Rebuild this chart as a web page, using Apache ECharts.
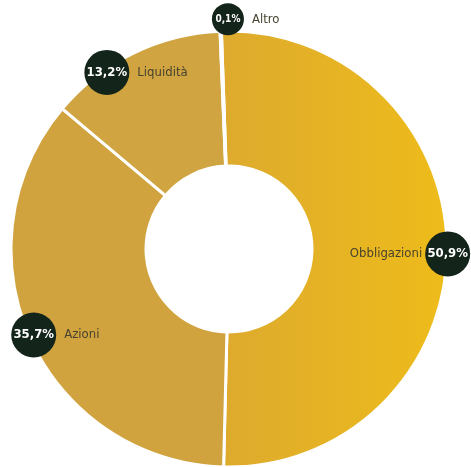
<!DOCTYPE html>
<html>
<head>
<meta charset="utf-8">
<script src="https://cdn.jsdelivr.net/npm/echarts@6/dist/echarts.min.js"></script>
<style>
html,body{margin:0;padding:0;background:#fff;}
#chart{width:471px;height:467px;}
</style>
</head>
<body>
<div id="chart"></div>
<script>
// Data
var categories = ['Obbligazioni', 'Azioni', 'Liquidità', 'Altro'];
var values = [50.9, 35.7, 13.2, 0.1];
var sliceColors = [
  ['#DDAA2E', '#EEBC1A'],
  ['#D0A33F', '#D0A33F'],
  ['#D0A440', '#D0A440'],
  ['#D9AB33', '#D9AB33']
];
// label side: 'left' => name drawn left of badge
var nameSide = ['left', 'right', 'right', 'right'];
// small nudges of each badge away from its slice's mid-angle point (px: right, down)
var badgeNudge = [[0, 6], [4, -4], [-26, 20], [7, -11]];

function fmt(v) { return v.toFixed(1).replace('.', ',') + '%'; }

var FONT = 'DejaVu Sans Condensed';
var NAME_SIZE = 13;
var ctx = document.createElement('canvas').getContext('2d');
ctx.font = NAME_SIZE + 'px "' + FONT + '"';
function textW(s) { return Math.ceil(ctx.measureText(s).width); }

var GAP_R = 8, GAP_L = 3;
var rich = {
  b: { width: 45, height: 45, lineHeight: 45, borderRadius: 23, backgroundColor: '#13241a',
       color: '#ffffff', fontFamily: FONT, fontWeight: 'bold', fontSize: 13,
       align: 'center', verticalAlign: 'middle' },
  bs: { width: 32, height: 32, lineHeight: 32, borderRadius: 16, backgroundColor: '#13241a',
        color: '#ffffff', fontFamily: FONT, fontWeight: 'bold', fontSize: 10,
        align: 'center', verticalAlign: 'middle' },
  n: { color: '#48432f', fontFamily: FONT, fontSize: NAME_SIZE, align: 'center', verticalAlign: 'middle' }
};
function spacer(key, w) {
  if (w <= 0) return '';
  rich[key] = { width: w, fontSize: 1, align: 'center', verticalAlign: 'middle' };
  return '{' + key + '|\u00a0}';
}
function vspace(key, h) {
  rich[key] = { height: h, lineHeight: h, fontSize: 1, align: 'center' };
  return '{' + key + '|\u00a0}';
}

function buildLabel(i) {
  var pct = fmt(values[i]);
  var name = categories[i];
  var badge = (i === 3) ? 'bs' : 'b';
  var w = textW(name);
  var dx = badgeNudge[i][0], dy = badgeNudge[i][1];
  var line;
  if (nameSide[i] === 'left') {
    line = '{n|' + name + '}' + spacer('ga' + i, GAP_L) + '{' + badge + '|' + pct + '}' + spacer('sa' + i, w + GAP_L);
  } else {
    line = spacer('sa' + i, w + GAP_R) + '{' + badge + '|' + pct + '}' + spacer('ga' + i, GAP_R) + '{n|' + name + '}';
  }
  if (dx > 0) line = spacer('hl' + i, 2 * dx) + line;
  if (dx < 0) line = line + spacer('hr' + i, -2 * dx);
  if (dy > 0) line = vspace('vt' + i, 2 * dy) + '\n' + line;
  if (dy < 0) line = line + '\n' + vspace('vb' + i, -2 * dy);
  return line;
}

var ringData = categories.map(function (c, i) {
  return {
    name: c,
    value: values[i],
    itemStyle: {
      color: new echarts.graphic.LinearGradient(0, 0, 1, 0, [
        { offset: 0, color: sliceColors[i][0] },
        { offset: 1, color: sliceColors[i][1] }
      ])
    }
  };
});

var labelData = categories.map(function (c, i) {
  return {
    name: c,
    value: values[i],
    label: { formatter: buildLabel(i) }
  };
});

var chart = echarts.init(document.getElementById('chart'), null, { renderer: 'canvas' });
chart.setOption({
  animation: false,
  backgroundColor: '#ffffff',
  series: [
    {
      type: 'pie',
      center: [229, 249],
      radius: [83, 218],
      startAngle: 92,
      clockwise: true,
      silent: true,
      label: { show: false },
      labelLine: { show: false },
      itemStyle: { borderColor: '#ffffff', borderWidth: 3 },
      emphasis: { disabled: true },
      data: ringData
    },
    {
      type: 'pie',
      center: [229, 249],
      radius: [196, 236],
      startAngle: 92,
      clockwise: true,
      silent: true,
      avoidLabelOverlap: false,
      minShowLabelAngle: 0,
      labelLayout: { hideOverlap: false },
      itemStyle: { color: 'rgba(0,0,0,0)', borderWidth: 0 },
      emphasis: { disabled: true },
      labelLine: { show: false },
      label: { show: true, position: 'inside', rich: rich },
      data: labelData
    }
  ]
});
</script>
</body>
</html>
